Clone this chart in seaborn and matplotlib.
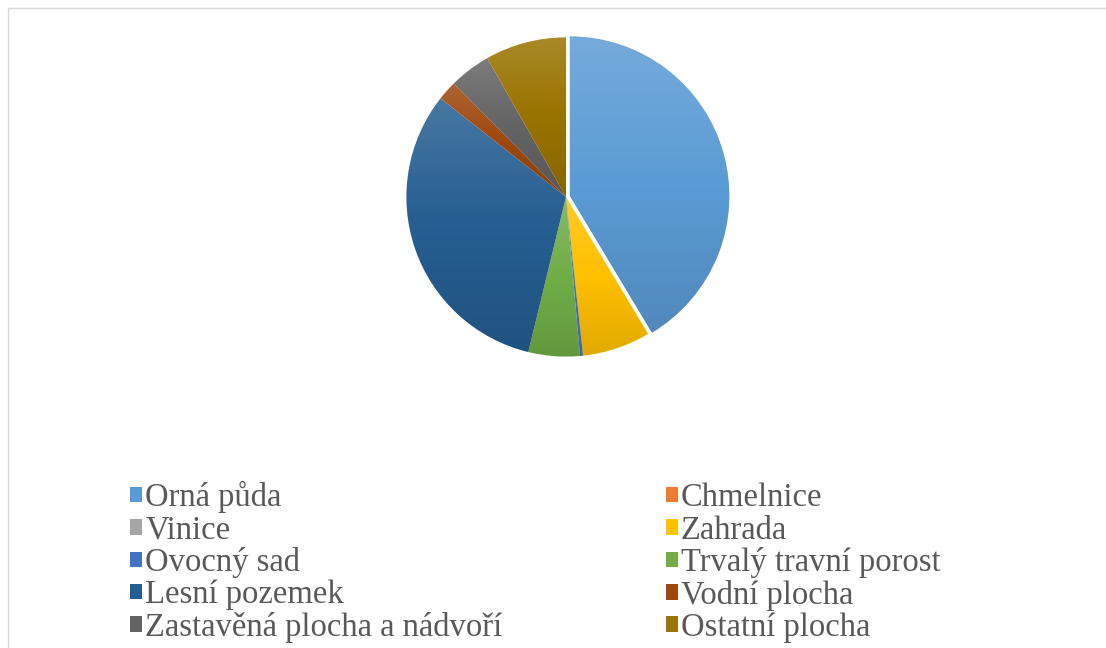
import matplotlib
matplotlib.use("Agg")
import matplotlib.pyplot as plt
import matplotlib.patches as mpatches
import numpy as np
import seaborn as sns

# land use categories (share of area, %)
categories = ["Orná půda", "Chmelnice", "Vinice", "Zahrada", "Ovocný sad",
              "Trvalý travní porost", "Lesní pozemek", "Vodní plocha",
              "Zastavěná plocha a nádvoří", "Ostatní plocha"]
shares = [41.4, 0.0, 0.0, 6.9, 0.3, 5.2, 31.8, 2.0, 4.2, 8.2]
colors = ["#5B9BD5", "#ED7D31", "#A5A5A5", "#FFC000", "#4472C4",
          "#70AD47", "#255E91", "#9E480E", "#636363", "#997300"]
explode = [0.025, 0, 0, 0, 0, 0, 0, 0, 0, 0]

sns.set_theme(style="white")
plt.rcParams["font.family"] = ["Liberation Serif", "DejaVu Serif"]

fig = plt.figure(figsize=(11.06, 6.48), dpi=100)
fig.patch.set_facecolor("white")

# chart frame
fig.add_artist(mpatches.Rectangle((8 / 1106, -0.01), 1.1, (648 - 8) / 648 + 0.01,
                                  transform=fig.transFigure, fill=False,
                                  edgecolor="#d9d9d9", linewidth=1))

ax = fig.add_axes([0.3546, 0.4278, 0.3143, 0.5364])
wedges, _ = ax.pie(shares, colors=colors, startangle=90, counterclock=False,
                   explode=explode, radius=1.01,
                   wedgeprops={"linewidth": 0})
ax.set_xlim(-1.1, 1.1)
ax.set_ylim(-1.1, 1.1)
ax.set_aspect("equal")
ax.axis("off")

# soft vertical shading per slice (lighter top, darker bottom)
t = np.linspace(0, 1, 64)
grad = np.zeros((64, 2, 4))
grad[:, :, :3] = np.where(t < 0.5, 1.0, 0.0)[:, None, None]
grad[:, :, 3] = np.where(t < 0.5, 0.16 * (1 - 2 * t), 0.12 * (2 * t - 1))[:, None]
for w in wedges:
    if w.theta2 - w.theta1 < 0.5:
        continue
    verts = w.get_patch_transform().transform(w.get_path().vertices)
    x0, y0 = verts.min(axis=0)
    x1, y1 = verts.max(axis=0)
    im = ax.imshow(grad, extent=(x0, x1, y0, y1), origin="upper",
                   aspect="auto", zorder=w.get_zorder() + 0.1)
    im.set_clip_path(w)
ax.set_xlim(-1.1, 1.1)
ax.set_ylim(-1.1, 1.1)

# row-major order as in the original legend
order = [0, 2, 4, 6, 8, 1, 3, 5, 7, 9]
handles = [mpatches.Patch(facecolor=colors[i], edgecolor="none") for i in order]
labels = [categories[i] for i in order]
leg = fig.legend(handles, labels, ncol=2, loc="upper left",
                 bbox_to_anchor=(114 / 1106, 1 - 465 / 648),
                 frameon=False, fontsize=23.5, handlelength=0.36,
                 handleheight=0.36, handletextpad=0.1, labelspacing=0.05,
                 columnspacing=5.0, borderpad=0)
for t in leg.get_texts():
    t.set_color("#595959")

fig.savefig("out.png", dpi=100)
